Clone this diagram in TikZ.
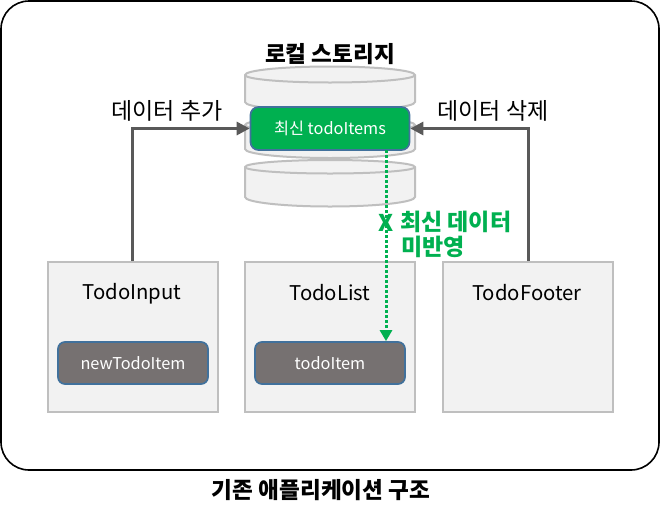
\documentclass[tikz,border=0pt]{standalone}
\usepackage{fontspec}
\setmainfont{Noto Sans CJK KR}
\usetikzlibrary{arrows.meta}
\definecolor{panel}{HTML}{F2F2F2}
\definecolor{edge}{HTML}{BFBFBF}
\definecolor{itemgray}{HTML}{767171}
\definecolor{bluee}{HTML}{41719C}
\definecolor{greenf}{HTML}{00B050}
\definecolor{arrowg}{HTML}{595959}
\tikzset{
  comp/.style={draw=edge,fill=panel,line width=2pt,minimum width=170pt,minimum height=150pt,inner sep=0pt},
  item/.style={draw=bluee,fill=itemgray,line width=1.7pt,rounded corners=7pt,minimum width=150pt,minimum height=42pt,inner sep=0pt,text=white,font=\fontsize{16.3}{18}\selectfont},
  latest/.style={draw=bluee,fill=greenf,line width=1.7pt,rounded corners=8pt,minimum width=159pt,minimum height=43pt,inner sep=0pt,text=white,font=\fontsize{16.3}{18}\selectfont},
  lbl/.style={inner sep=0pt,font=\fontsize{23}{26}\selectfont},
  compt/.style={inner sep=0pt,font=\fontsize{20.3}{24}\selectfont},
  boldl/.style={inner sep=0pt,font=\fontsize{22.6}{26}\selectfont\bfseries},
  greenl/.style={inner sep=0pt,text=greenf,font=\fontsize{23}{26}\selectfont\bfseries},
  disk/.style={draw=edge,fill=panel,line width=2pt},
  flow/.style={draw=arrowg,line width=3pt,-{Triangle[length=13pt,width=13pt]}},
  stale/.style={draw=greenf,line width=3pt,dash pattern=on 3pt off 2pt,-{Triangle[length=11pt,width=12pt]}}
}
\begin{document}
\begin{tikzpicture}[x=1pt,y=-1pt]
\useasboundingbox (0,0) rectangle (660,517);
\fill[white] (0,0) rectangle (660,517);
\draw[black,line width=1.6pt,rounded corners=28pt] (1,1) rectangle (659,470);
% storage cylinders
\draw[disk] (245,167) -- (245,197) arc[start angle=180,end angle=0,x radius=85,y radius=9.5] -- (415,167) arc[start angle=360,end angle=180,x radius=85,y radius=7] -- cycle;
\draw[disk] (245,167) arc[start angle=180,end angle=0,x radius=85,y radius=6.5];
\draw[disk] (245,125) -- (245,149) arc[start angle=180,end angle=0,x radius=85,y radius=9] -- (415,125) arc[start angle=360,end angle=180,x radius=85,y radius=8] -- cycle;
\draw[disk] (245,125) arc[start angle=180,end angle=0,x radius=85,y radius=8];
\draw[disk] (245,75) -- (245,102) arc[start angle=180,end angle=0,x radius=85,y radius=9] -- (415,75) arc[start angle=360,end angle=180,x radius=85,y radius=8.5] -- cycle;
\draw[disk] (245,75) arc[start angle=180,end angle=0,x radius=85,y radius=7.5];
\node[boldl] (title) at (330,54) {로컬 스토리지};
% components
\node[comp] (tin) at (132.5,337) {};
\node[comp] (tlist) at (330,337) {};
\node[comp] (tfoot) at (528,337) {};
\node[compt] (tint) at (132,294) {TodoInput};
\node[compt] (tlistt) at (330,293) {TodoList};
\node[compt] (tfoott) at (527,293) {TodoFooter};
\node[item] (newitem) at (133,363) {newTodoItem};
\node[item] (item) at (330,363) {todoItem};
\node[latest] (fresh) at (330,128.5) {최신 todoItems};
% connectors
\draw[flow] (tin.north) |- (fresh.west);
\draw[flow] (tfoot.north) |- (fresh.east);
\coordinate (dotstart) at (386,150);
\draw[stale] (dotstart) -- (dotstart |- item.north);
% labels
\node[lbl] (addl) at (167,111) {데이터 추가};
\node[lbl] (dell) at (493,111) {데이터 삭제};
\node[greenl] (xmark) at (386,223) {X};
\node[greenl,anchor=west] (nol1) at (400,222) {최신 데이터};
\node[greenl,anchor=west] (nol2) at (401,247) {미반영};
\node[boldl] (caption) at (321,490) {기존 애플리케이션 구조};
\end{tikzpicture}
\end{document}
